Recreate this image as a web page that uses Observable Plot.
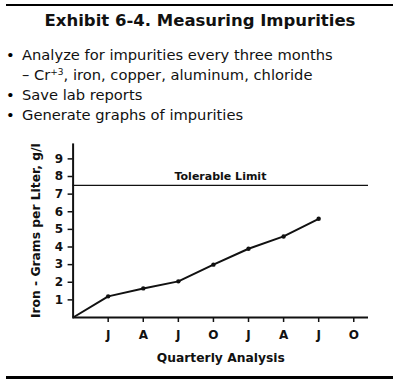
<!DOCTYPE html>
<html>
<head>
<meta charset="utf-8">
<script src="https://cdn.jsdelivr.net/npm/d3@7"></script>
<script src="https://cdn.jsdelivr.net/npm/@observablehq/plot@0.6"></script>
<style>
  body { margin: 0; background: #fff; font-family: "DejaVu Sans", Verdana, sans-serif; }
  #wrap { position: relative; width: 400px; height: 384px; overflow: hidden; background: #fff; }
  .rule { position: absolute; left: 6px; width: 387px; background: #000; }
  #title { position: absolute; left: 0; width: 400px; top: 11px; text-align: center; font-weight: bold; font-size: 16.5px; line-height: 20px; color: #111; }
  .line { position: absolute; font-size: 14.7px; line-height: 20px; color: #111; white-space: nowrap; }
  .bullet { position: absolute; left: 6px; font-size: 14.7px; line-height: 20px; }
  sup { font-size: 9px; vertical-align: 5px; line-height: 0; }
  #chart { position: absolute; left: 0; top: 130px; }
</style>
</head>
<body>
<div id="wrap">
  <div class="rule" style="top:4px;height:2px"></div>
  <div id="title"></div>
  <div id="bullets"></div>
  <div id="chart"></div>
  <div class="rule" style="top:376px;height:2.5px"></div>
</div>
<script>
const titleText = "Exhibit 6-4. Measuring Impurities";
const bulletLines = [
  {bullet: true, html: "Analyze for impurities every three months"},
  {bullet: false, html: "– Cr<sup>+3</sup>, iron, copper, aluminum, chloride"},
  {bullet: true, html: "Save lab reports"},
  {bullet: true, html: "Generate graphs of impurities"}
];
const quarters = [0, 1, 2, 3, 4, 5, 6, 7];
const iron = [0, 1.2, 1.65, 2.05, 3.0, 3.9, 4.6, 5.6];
const xTicks = [1, 2, 3, 4, 5, 6, 7, 8];
const xTickLabels = ["J", "A", "J", "O", "J", "A", "J", "O"];
const yTicks = [1, 2, 3, 4, 5, 6, 7, 8, 9];
const limitValue = 7.5;
const limitLabel = "Tolerable Limit";
const yLabel = "Iron - Grams per Liter, g/l";
const xLabel = "Quarterly Analysis";

document.getElementById("title").textContent = titleText;
const bl = document.getElementById("bullets");
bulletLines.forEach((b, i) => {
  const top = 45.2 + i * 20;
  if (b.bullet) {
    const d = document.createElement("div");
    d.className = "bullet";
    d.style.top = top + "px";
    d.textContent = "•";
    bl.appendChild(d);
  }
  const t = document.createElement("div");
  t.className = "line";
  t.style.top = top + "px";
  t.style.left = "22px";
  t.innerHTML = b.html;
  bl.appendChild(t);
});

const data = quarters.map((q, i) => ({q, v: iron[i]}));
const xMax = 8.42, yMax = 9.85;

const chart = Plot.plot({
  width: 400,
  height: 254,
  marginLeft: 72.6,
  marginRight: 32,
  marginTop: 13.4,
  marginBottom: 67,
  style: {fontFamily: "DejaVu Sans, Verdana, sans-serif", color: "#111", background: "transparent"},
  x: {domain: [0, xMax]},
  y: {domain: [0, yMax]},
  marks: [
    Plot.axisY({ticks: yTicks, tickSize: 5, tickPadding: 5, fontSize: 12, fontWeight: "bold",
      tickFormat: d => String(d), strokeWidth: 1.5,
      label: yLabel, labelAnchor: "center", labelArrow: "none", labelOffset: 42}),
    Plot.axisX({ticks: xTicks, tickSize: 5, tickPadding: 8, fontSize: 12, fontWeight: "bold",
      tickFormat: d => xTickLabels[xTicks.indexOf(d)], strokeWidth: 1.5,
      label: xLabel, labelAnchor: "center", labelArrow: "none", labelOffset: 44}),
    Plot.ruleX([0], {y1: 0, y2: yMax, strokeWidth: 2}),
    Plot.ruleY([0], {x1: 0, x2: xMax, strokeWidth: 2}),
    Plot.ruleY([limitValue], {x1: 0, x2: xMax, strokeWidth: 1.2}),
    Plot.text([limitLabel], {x: 4.2, y: limitValue, text: d => d, dy: -9, fontSize: 11, fontWeight: "bold"}),
    Plot.line(data, {x: "q", y: "v", strokeWidth: 2}),
    Plot.dot(data.slice(1), {x: "q", y: "v", r: 2.2, fill: "currentColor", stroke: "none"})
  ]
});
chart.querySelectorAll('[aria-label="y-axis label"] text, [aria-label="x-axis label"] text').forEach(t => {
  t.setAttribute("font-weight", "bold");
  t.setAttribute("font-size", "12.3");
});
document.getElementById("chart").appendChild(chart);
</script>
</body>
</html>
